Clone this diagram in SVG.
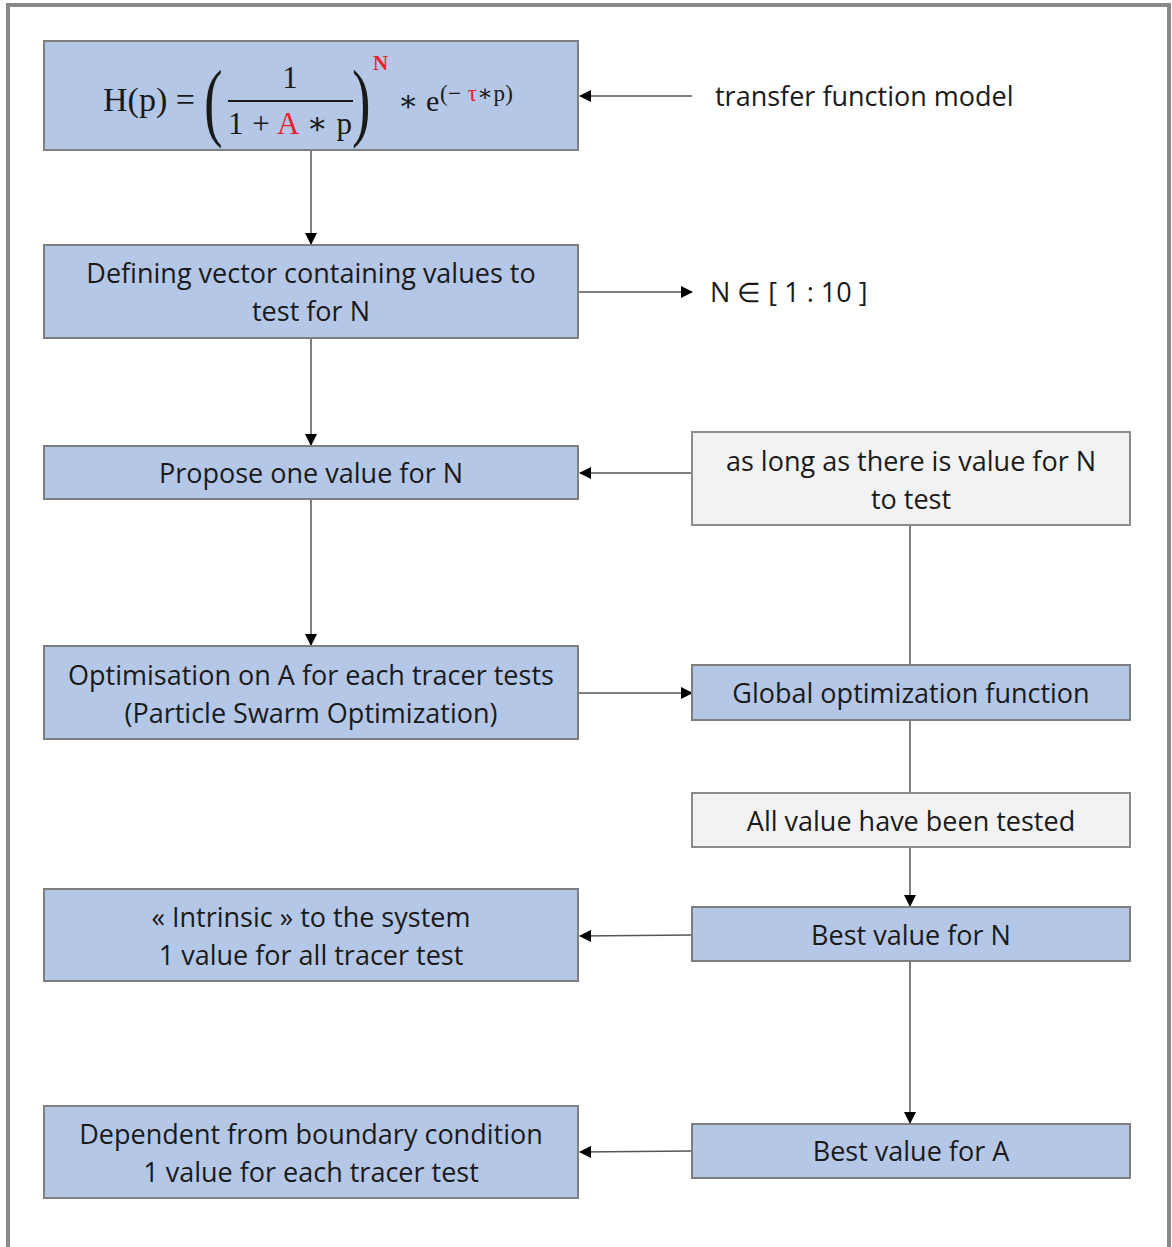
<svg xmlns="http://www.w3.org/2000/svg" width="1172" height="1247" viewBox="0 0 1172 1247">
<defs>
<style>
.blue{fill:#b4c7e7;stroke:#7f7f7f;stroke-width:2}
.gray{fill:#f2f2f2;stroke:#8c8c8c;stroke-width:2}
.t{font-family:"Open Sans","Liberation Sans",sans-serif;font-size:27px;fill:#1a1a1a;text-anchor:middle}
.tl{font-family:"Open Sans","Liberation Sans",sans-serif;font-size:27px;fill:#1a1a1a}
.m{font-family:"Liberation Serif","DejaVu Serif",serif;fill:#1a1a1a}
.red{fill:#e8202a}
.c{stroke:#555;stroke-width:1.5;fill:none}
</style>
<marker id="ah" markerWidth="12" markerHeight="12" refX="11" refY="6" orient="auto" markerUnits="userSpaceOnUse">
<path d="M0,0 L12,6 L0,12 Z" fill="#000"/>
</marker>
</defs>
<rect width="1172" height="1247" fill="#fff"/>
<path d="M8,1247 L8,5 L1169,5 L1169,1247" fill="none" stroke="#888" stroke-width="4"/>

<g id="connectors">
<line class="c" x1="311" y1="150" x2="311" y2="244" marker-end="url(#ah)"/>
<line class="c" x1="311" y1="338" x2="311" y2="445" marker-end="url(#ah)"/>
<line class="c" x1="311" y1="499" x2="311" y2="645" marker-end="url(#ah)"/>
<line class="c" x1="692" y1="96" x2="580" y2="96" marker-end="url(#ah)"/>
<line class="c" x1="578" y1="292" x2="692" y2="292" marker-end="url(#ah)"/>
<line class="c" x1="692" y1="473" x2="580" y2="473" marker-end="url(#ah)"/>
<line class="c" x1="910" y1="525" x2="910" y2="665"/>
<line class="c" x1="578" y1="693" x2="692" y2="693" marker-end="url(#ah)"/>
<line class="c" x1="910" y1="720" x2="910" y2="793"/>
<line class="c" x1="910" y1="847" x2="910" y2="906" marker-end="url(#ah)"/>
<line class="c" x1="692" y1="935" x2="580" y2="936" marker-end="url(#ah)"/>
<line class="c" x1="910" y1="961" x2="910" y2="1123" marker-end="url(#ah)"/>
<line class="c" x1="692" y1="1151" x2="580" y2="1152" marker-end="url(#ah)"/>
</g>

<g id="formula">
<rect class="blue" x="44" y="41" width="534" height="109"/>
<text class="m" x="103" y="111" font-size="33" textLength="92" lengthAdjust="spacingAndGlyphs">H(p) =</text>
<text class="m" transform="translate(204,130) scale(0.9,1.4)" font-size="62">(</text>
<text class="m" x="290" y="88" font-size="31" text-anchor="middle">1</text>
<line x1="228" y1="101" x2="353" y2="101" stroke="#1a1a1a" stroke-width="2"/>
<text class="m" x="228" y="134" font-size="31" textLength="124" lengthAdjust="spacing">1 + <tspan class="red">A</tspan>  ∗ p</text>
<text class="m" transform="translate(352,130) scale(0.9,1.4)" font-size="62">)</text>
<text class="m red" x="373" y="70" font-size="21" font-weight="bold">N</text>
<text class="m" x="398" y="111" font-size="30">∗ e</text>
<text class="m" x="440" y="101" font-size="23" textLength="73" lengthAdjust="spacing">(− <tspan class="red">τ</tspan>∗p)</text>
</g>
<text id="tfm" class="tl" x="715" y="106">transfer function model</text>

<g id="define">
<rect class="blue" x="44" y="245" width="534" height="93"/>
<text class="t" x="311" y="283">Defining vector containing values to</text>
<text class="t" x="311" y="321">test for N</text>
</g>
<text id="nrange" class="tl" x="710" y="302">N ∈ [ 1 : 10 ]</text>

<g id="propose">
<rect class="blue" x="44" y="446" width="534" height="53"/>
<text class="t" x="311" y="483">Propose one value for N</text>
</g>

<g id="optim">
<rect class="blue" x="44" y="646" width="534" height="93"/>
<text class="t" x="311" y="685">Optimisation on A for each tracer tests</text>
<text class="t" x="311" y="723">(Particle Swarm Optimization)</text>
</g>

<g id="intrinsic">
<rect class="blue" x="44" y="889" width="534" height="92"/>
<text class="t" x="311" y="927">« Intrinsic » to the system</text>
<text class="t" x="311" y="965">1 value for all tracer test</text>
</g>

<g id="dependent">
<rect class="blue" x="44" y="1106" width="534" height="92"/>
<text class="t" x="311" y="1144">Dependent from boundary condition</text>
<text class="t" x="311" y="1182">1 value for each tracer test</text>
</g>

<g id="aslong">
<rect class="gray" x="692" y="432" width="438" height="93"/>
<text class="t" x="911" y="471">as long as there is value for N</text>
<text class="t" x="911" y="509">to test</text>
</g>

<g id="global">
<rect class="blue" x="692" y="665" width="438" height="55"/>
<text class="t" x="911" y="703">Global optimization function</text>
</g>

<g id="alltested">
<rect class="gray" x="692" y="793" width="438" height="54"/>
<text class="t" x="911" y="831">All value have been tested</text>
</g>

<g id="bestN">
<rect class="blue" x="692" y="907" width="438" height="54"/>
<text class="t" x="911" y="945">Best value for N</text>
</g>

<g id="bestA">
<rect class="blue" x="692" y="1124" width="438" height="54"/>
<text class="t" x="911" y="1161">Best value for A</text>
</g>
</svg>
